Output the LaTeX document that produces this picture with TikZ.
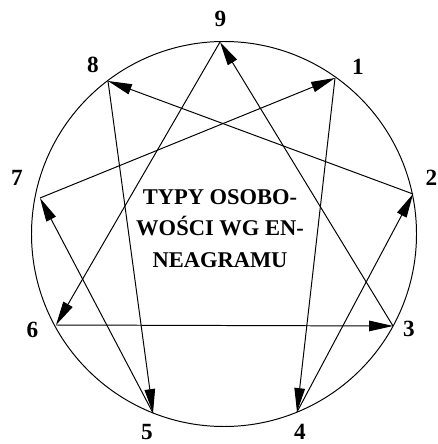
\documentclass[tikz,border=0pt]{standalone}
\usepackage{fontspec}
\setmainfont{Liberation Serif}
\usetikzlibrary{arrows.meta}

\tikzset{
  numlbl/.style={font=\fontsize{16.5}{18}\selectfont\bfseries,inner sep=0pt},
  edge/.style={line width=0.7pt,-{Triangle[length=17pt,width=7.5pt]}}
}

\begin{document}
\begin{tikzpicture}[x=0.025cm,y=-0.025cm]
  \useasboundingbox (0,0) rectangle (437,444);

  % Circle
  \draw[line width=0.7pt] (224,234) circle[radius=192.5];

  % Points on the circle
  \coordinate (p9) at (220,42);
  \coordinate (p1) at (335,78);
  \coordinate (p2) at (413,194);
  \coordinate (p3) at (393,326);
  \coordinate (p4) at (297,412);
  \coordinate (p5) at (153,413);
  \coordinate (p6) at (56,325);
  \coordinate (p7) at (40,198);
  \coordinate (p8) at (108,81);

  % Numbers
  \node[numlbl] (l9) at (220.5,19) {9};
  \node[numlbl] (l1) at (358,67) {1};
  \node[numlbl] (l2) at (431.5,178) {2};
  \node[numlbl] (l3) at (409,329) {3};
  \node[numlbl] (l4) at (300,432) {4};
  \node[numlbl] (l5) at (147,432.5) {5};
  \node[numlbl] (l6) at (32.5,330) {6};
  \node[numlbl] (l7) at (17,178) {7};
  \node[numlbl] (l8) at (93,65) {8};

  % Triangle 9-6-3
  \draw[edge] (p9) -- (p6);
  \draw[edge] (p6) -- (p3);
  \draw[edge] (p3) -- (p9);

  % Hexad 1-4-2-8-5-7
  \draw[edge] (p1) -- (p4);
  \draw[edge] (p4) -- (p2);
  \draw[edge] (p2) -- (p8);
  \draw[edge] (p8) -- (p5);
  \draw[edge] (p5) -- (p7);
  \draw[edge] (p7) -- (p1);

  % Title
  \node[align=center,inner sep=0pt,
        font=\fontsize{16}{22.4}\selectfont\bfseries] (title) at (220,228.5)
    {TYPY OSOBO-\\WOŚCI WG EN-\\NEAGRAMU};
\end{tikzpicture}
\end{document}
